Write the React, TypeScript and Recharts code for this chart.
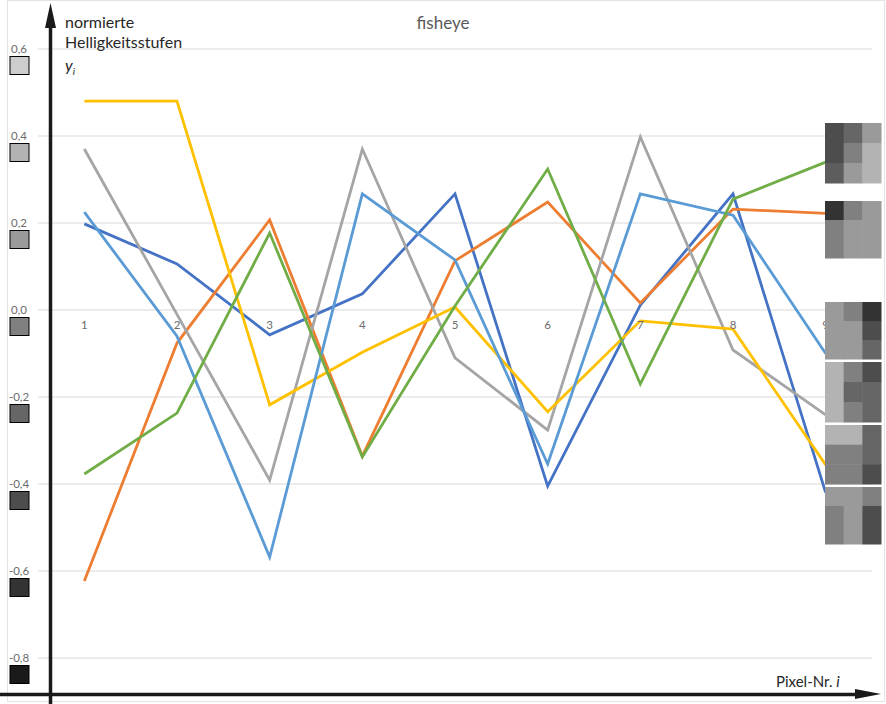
import React from 'react';
import { LineChart, Line, XAxis, YAxis, CartesianGrid } from 'recharts';

// Pixel-Nr. i
const pixels = [1, 2, 3, 4, 5, 6, 7, 8, 9];

// normierte Helligkeitsstufen y_i, one row per fisheye block
const seriesDarkBlue = [0.198, 0.106, -0.057, 0.037, 0.267, -0.405, 0.011, 0.267, -0.42];
const seriesOrange = [-0.623, -0.076, 0.207, -0.336, 0.113, 0.248, 0.016, 0.232, 0.222];
const seriesGrey = [0.37, -0.01, -0.391, 0.37, -0.11, -0.276, 0.398, -0.092, -0.241];
const seriesYellow = [0.48, 0.48, -0.218, -0.097, 0.007, -0.234, -0.025, -0.044, -0.356];
const seriesLightBlue = [0.225, -0.06, -0.568, 0.267, 0.115, -0.354, 0.267, 0.218, -0.1];
const seriesGreen = [-0.377, -0.237, 0.177, -0.338, 0.009, 0.324, -0.17, 0.255, 0.34];

const yTicks = [0.6, 0.4, 0.2, 0, -0.2, -0.4, -0.6, -0.8];

// 3x3 pixel blocks shown at the right edge (grey levels 0..255)
const blockGreys = [
    [77, 102, 154, 77, 128, 179, 93, 154, 179],
    [51, 128, 154, 128, 154, 154, 128, 154, 154],
    [154, 128, 51, 154, 154, 77, 154, 154, 102],
    [179, 128, 77, 179, 102, 102, 179, 128, 102],
    [179, 179, 102, 128, 128, 102, 128, 128, 77],
    [154, 154, 128, 128, 154, 77, 128, 154, 77],
];

const series = [
    { key: 'b', data: seriesDarkBlue, color: '#4472C4' },
    { key: 'o', data: seriesOrange, color: '#ED7D31' },
    { key: 'g', data: seriesGrey, color: '#A5A5A5' },
    { key: 'y', data: seriesYellow, color: '#FFC000' },
    { key: 'lb', data: seriesLightBlue, color: '#5B9BD5' },
    { key: 'gr', data: seriesGreen, color: '#70AD47' },
];

const chartData = pixels.map((p, i) => {
    const row: Record<string, number> = { i: p };
    series.forEach((s) => { row[s.key] = s.data[i]; });
    return row;
});

const W = 886;
const H = 704;
const TOP = 49;
const BOTTOM = 658;
const Y_MIN = -0.8;
const Y_MAX = 0.6;
const ZERO_Y = TOP + (Y_MAX / (Y_MAX - Y_MIN)) * (BOTTOM - TOP);
const FONT = 'Lato, "Open Sans", sans-serif';

const grey = (v: number) => `rgb(${v},${v},${v})`;
const fmt = (v: number) => v.toFixed(1).replace('.', ',');

const YTick = (props: any) => {
    const { y, payload } = props;
    const v = payload.value as number;
    const level = Math.round(128 + 128 * v);
    return (
        <g>
            <text x={19} y={y + 4} textAnchor="middle" fontSize={11.5} fill="#6b6b6b" fontFamily={FONT}>
                {fmt(v)}
            </text>
            <rect x={10} y={y + 7.5} width={19} height={18} fill={grey(level)} stroke="#000" strokeWidth={1} />
        </g>
    );
};

const XTick = (props: any) => {
    const { x, payload } = props;
    return (
        <text x={x} y={ZERO_Y + 19} textAnchor="middle" fontSize={11.5} fill="#6b6b6b" fontFamily={FONT}>
            {payload.value}
        </text>
    );
};

const blockTops = [123, 201, 302, 362, 425, 487];
const blockHeights = [60, 57, 57, 60, 59, 57];

const App: React.FC = () => {
    return (
        <div style={{ position: 'absolute', left: 0, top: 0, width: W, height: H, background: '#fff' }}>
            <LineChart width={W} height={H} data={chartData} margin={{ top: TOP, right: 14, bottom: 16, left: 0 }}>
                <CartesianGrid horizontal vertical={false} stroke="#d9d9d9" />
                <XAxis
                    dataKey="i"
                    type="number"
                    domain={[0.5, 9.5]}
                    ticks={pixels}
                    height={30}
                    axisLine={false}
                    tickLine={false}
                    tick={<XTick />}
                />
                <YAxis
                    type="number"
                    domain={[Y_MIN, Y_MAX]}
                    ticks={yTicks}
                    width={38}
                    axisLine={false}
                    tickLine={false}
                    tick={<YTick />}
                />
                {series.map((s) => (
                    <Line
                        key={s.key}
                        dataKey={s.key}
                        stroke={s.color}
                        strokeWidth={2.8}
                        dot={false}
                        type="linear"
                        isAnimationActive={false}
                    />
                ))}
            </LineChart>
            <svg width={W} height={H} style={{ position: 'absolute', left: 0, top: 0, pointerEvents: 'none' }}>
                <rect x={7.5} y={0.5} width={877} height={701} fill="none" stroke="#e3e3e3" />
                <text x={443} y={29} textAnchor="middle" fontSize={17} fill="#595959" fontFamily={FONT}>fisheye</text>
                <text x={65} y={28} fontSize={16} fill="#262626" fontFamily={FONT}>normierte</text>
                <text x={65} y={48} fontSize={16} fill="#262626" fontFamily={FONT}>Helligkeitsstufen</text>
                <text x={65} y={71} fontSize={16} fill="#262626" fontFamily={FONT} fontStyle="italic">
                    y<tspan fontSize={10} dy={4}>i</tspan>
                </text>
                <text x={776} y={687} fontSize={15} fill="#262626" fontFamily={FONT}>
                    Pixel-Nr. <tspan fontStyle="italic">i</tspan>
                </text>
                {blockGreys.map((cells, b) => (
                    <g key={b}>
                        {cells.map((c, k) => {
                            const col = k % 3;
                            const row = Math.floor(k / 3);
                            const cw = 56 / 3;
                            const ch = blockHeights[b] / 3;
                            return (
                                <rect
                                    key={k}
                                    x={825 + col * cw}
                                    y={blockTops[b] + row * ch}
                                    width={cw + 0.5}
                                    height={ch + 0.5}
                                    fill={grey(c)}
                                />
                            );
                        })}
                    </g>
                ))}
                <line x1={50.5} y1={20} x2={50.5} y2={704} stroke="#1a1a1a" strokeWidth={3.5} />
                <polygon points="50.5,3 45,28 56,28" fill="#1a1a1a" />
                <line x1={0} y1={694.5} x2={862} y2={694.5} stroke="#1a1a1a" strokeWidth={3.5} />
                <polygon points="881,694 855,689 855,699" fill="#1a1a1a" />
            </svg>
        </div>
    );
};

export default App;
